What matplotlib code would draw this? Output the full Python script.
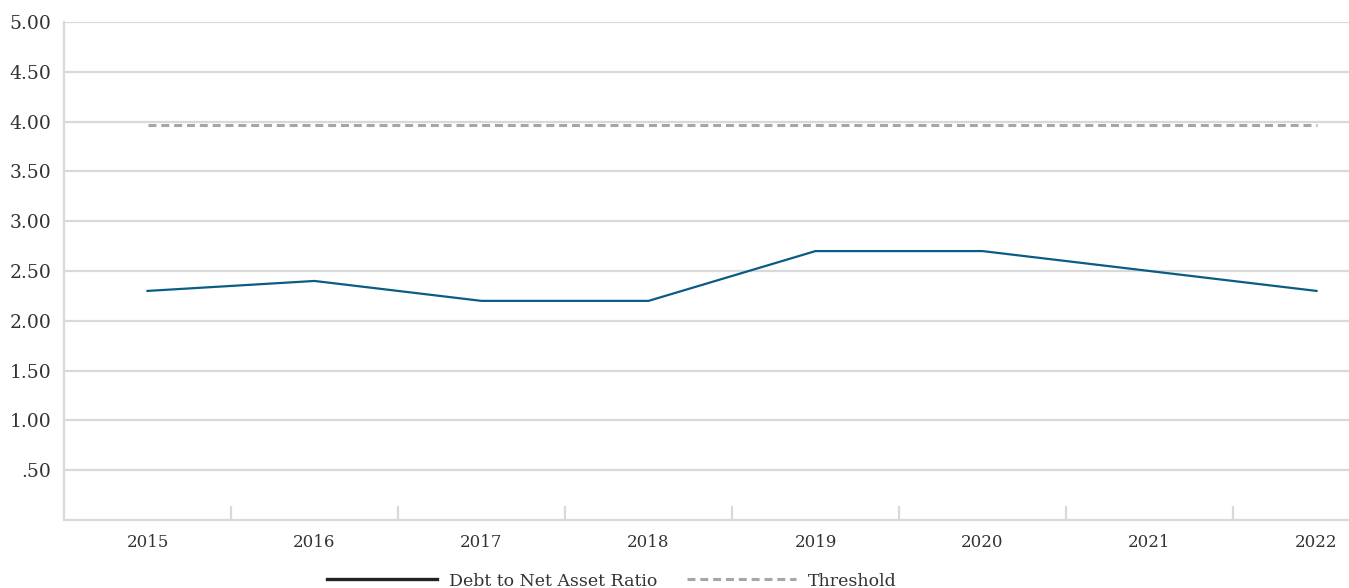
import matplotlib
matplotlib.use('Agg')
from matplotlib import pyplot as plt
from matplotlib.lines import Line2D
from matplotlib.ticker import FixedLocator

plt.rcParams['font.family'] = ['DejaVu Serif']

years = ['2015', '2016', '2017', '2018', '2019', '2020', '2021', '2022']
ratio = [2.3, 2.4, 2.2, 2.2, 2.7, 2.7, 2.5, 2.3]
threshold = [3.97] * len(years)
y_ticks = [0.5, 1.0, 1.5, 2.0, 2.5, 3.0, 3.5, 4.0, 4.5, 5.0]
y_labels = ['.50', '1.00', '1.50', '2.00', '2.50', '3.00', '3.50', '4.00', '4.50', '5.00']

grid_col = '#d9d9d9'
text_col = '#333333'

fig = plt.figure(figsize=(13.49, 5.88), dpi=100)
ax = fig.add_axes([64 / 1349, 1 - 520 / 588, 1 - 64 / 1349, (520 - 22) / 588])

x = list(range(len(years)))
ax.plot(x, ratio, color='#0b5c85', linewidth=1.6, zorder=3)
ax.plot(x, threshold, color='#a6a6a6', linewidth=2.2, dashes=(2.6, 1.6), zorder=3)

# category width ~167 px, axes runs past the right edge of the figure
ax.set_xlim(-0.5, 1285 / 167 - 0.5)
ax.set_ylim(0, 5)

ax.set_yticks(y_ticks)
ax.set_yticklabels(y_labels, fontsize=13.5, color=text_col)
ax.tick_params(axis='y', length=0, pad=9)
ax.yaxis.grid(True, color=grid_col, linewidth=1.6)
ax.set_axisbelow(True)

ax.set_xticks(x)
ax.set_xticklabels(years, fontsize=12, color=text_col)
ax.tick_params(axis='x', which='major', length=0, pad=10)
ax.xaxis.set_minor_locator(FixedLocator([i + 0.5 for i in range(len(years) - 1)]))
ax.tick_params(axis='x', which='minor', direction='in', length=10, width=1.6, color=grid_col)

for side in ['top', 'right']:
    ax.spines[side].set_visible(False)
for side in ['left', 'bottom']:
    ax.spines[side].set_color(grid_col)
    ax.spines[side].set_linewidth(1.6)

handles = [Line2D([], [], color='#222222', linewidth=2.4),
           Line2D([], [], color='#a6a6a6', linewidth=2.2, dashes=(2.6, 1.6))]
fig.legend(handles, ['Debt to Net Asset Ratio', 'Threshold'],
           loc='center', bbox_to_anchor=(612 / 1349, 1 - 581 / 588),
           ncol=2, frameon=False, fontsize=12.5, handlelength=6.3,
           handletextpad=0.7, columnspacing=1.7, labelcolor=text_col)

fig.savefig('out.png', dpi=100)
